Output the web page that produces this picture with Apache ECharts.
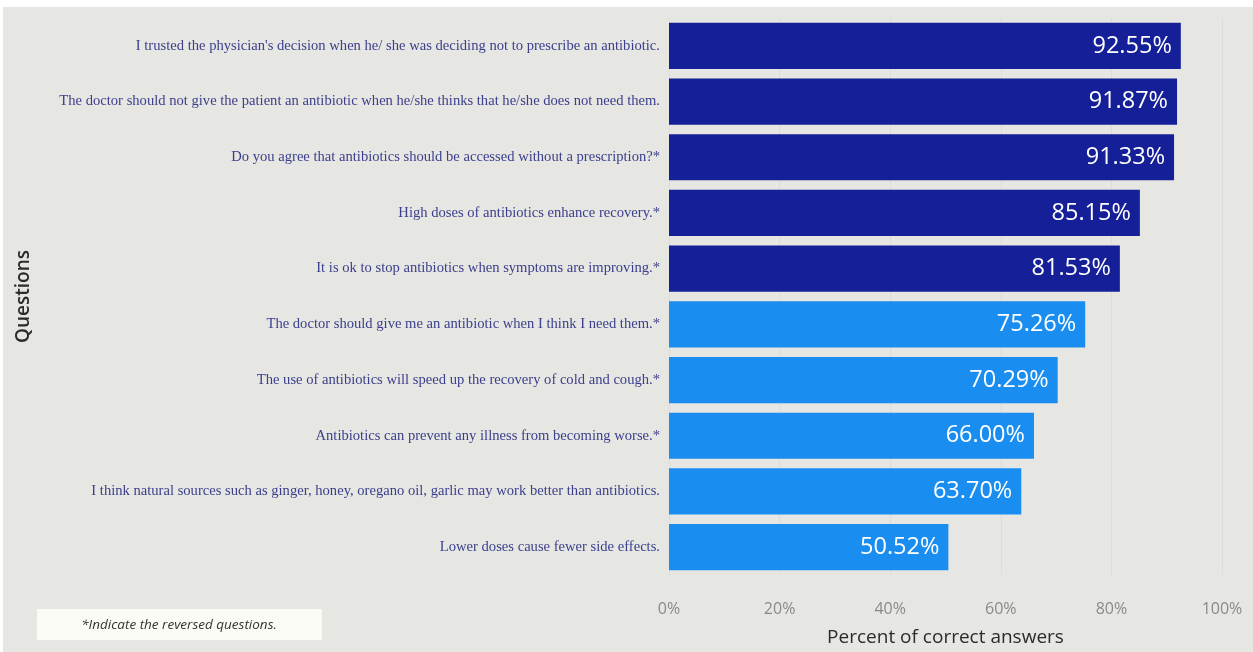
<!DOCTYPE html>
<html>
<head>
<meta charset="utf-8">
<script src="https://cdn.jsdelivr.net/npm/echarts@6/dist/echarts.min.js"></script>
<style>
html,body{margin:0;padding:0;background:#ffffff;}
#chart{position:absolute;left:3px;top:7px;width:1250px;height:645px;background:#e6e6e2;}
</style>
</head>
<body>
<div id="chart"></div>
<script>
const categories = [
  "I trusted the physician's decision when he/ she was deciding not to prescribe an antibiotic.",
  "The doctor should not give the patient an antibiotic when he/she thinks that he/she does not need them.",
  "Do you agree that antibiotics should be accessed without a prescription?*",
  "High doses of antibiotics enhance recovery.*",
  "It is ok to stop antibiotics when symptoms are improving.*",
  "The doctor should give me an antibiotic when I think I need them.*",
  "The use of antibiotics will speed up the recovery of cold and cough.*",
  "Antibiotics can prevent any illness from becoming worse.*",
  "I think natural sources such as ginger, honey, oregano oil, garlic may work better than antibiotics.",
  "Lower doses cause fewer side effects."
];
const values = [92.55, 91.87, 91.33, 85.15, 81.53, 75.26, 70.29, 66.00, 63.70, 50.52];
const groups = ["high","high","high","high","high","low","low","low","low","low"];
const groupColors = {high: "#151f97", low: "#1a8df0"};
const xTicks = [0, 20, 40, 60, 80, 100];

const chart = echarts.init(document.getElementById('chart'), null, {renderer: 'canvas'});
chart.setOption({
  backgroundColor: '#e6e6e2',
  animation: false,
  grid: {left: 666, right: 31, top: 11, bottom: 75, containLabel: false},
  xAxis: {
    type: 'value', min: xTicks[0], max: xTicks[xTicks.length - 1], interval: 20,
    name: 'Percent of correct answers', nameLocation: 'middle', nameGap: 53,
    nameTextStyle: {fontFamily: 'Open Sans', fontSize: 19, color: '#2b2b2b'},
    axisLine: {show: false}, axisTick: {show: false},
    axisLabel: {formatter: v => v + '%', color: '#8a8a8a', fontSize: 16, fontFamily: 'Open Sans', margin: 26},
    splitLine: {show: true, lineStyle: {color: '#dcdcd8', width: 1}}
  },
  yAxis: {
    type: 'category', data: categories, inverse: true,
    name: 'Questions', nameLocation: 'middle', nameGap: 636, nameRotate: 90,
    nameTextStyle: {fontFamily: 'Open Sans', fontSize: 19, fontWeight: 600, color: '#2b2b2b'},
    axisLine: {show: false}, axisTick: {show: false},
    axisLabel: {color: '#3b3f8c', fontFamily: 'Liberation Serif', fontSize: 14.6, margin: 9}
  },
  series: [{
    type: 'bar', barCategoryGap: '17%',
    data: values.map((v, i) => ({value: v, itemStyle: {color: groupColors[groups[i]]}})),
    label: {show: true, position: 'insideRight', distance: 9, color: '#ffffff', fontSize: 23.5, fontFamily: 'Open Sans',
      formatter: p => p.value.toFixed(2) + '%'}
  }],
  graphic: [{
    type: 'group', left: 34, top: 602,
    children: [
      {type: 'rect', shape: {x: 0, y: 0, width: 285, height: 31}, style: {fill: '#fbfbf5'}},
      {type: 'text', x: 142, y: 16, style: {text: '*Indicate the reversed questions.', fill: '#333', font: 'italic 13.5px "Open Sans"', align: 'center', verticalAlign: 'middle'}}
    ]
  }]
});
</script>
</body>
</html>
